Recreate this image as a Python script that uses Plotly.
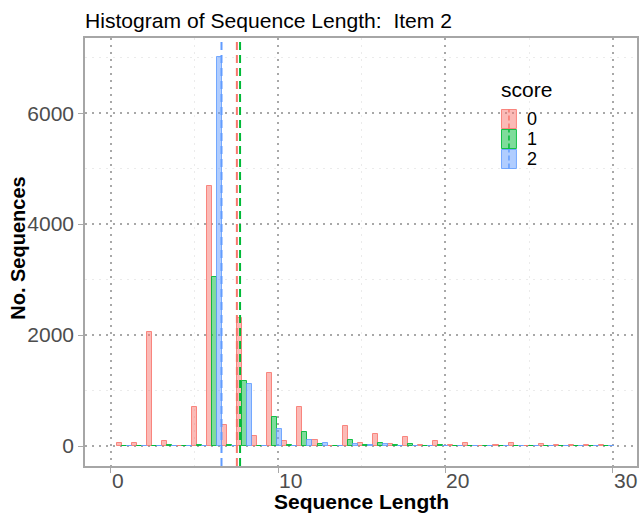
import plotly.graph_objects as go

# ---- data ----
bin_centers = [0.79, 1.69, 2.59, 3.49, 4.39, 5.30, 6.20, 7.10, 8.00, 8.90,
               9.80, 10.70, 11.60, 12.50, 13.40, 14.31, 15.21, 16.11, 17.01, 17.91,
               18.81, 19.71, 20.61, 21.51, 22.41, 23.32, 24.22, 25.12, 26.02, 26.92,
               27.82, 28.72, 29.62]
score_labels = ["0", "1", "2"]
count_0 = [60, 55, 2055, 96, 0, 707, 4695, 371, 2305, 180,
           1317, 96, 710, 108, 0, 359, 54, 222, 42, 165,
           24, 90, 18, 60, 0, 18, 48, 8, 30, 10,
           12, 10, 12]
count_1 = [5, 5, 5, 18, 0, 20, 3048, 10, 1174, 5,
           527, 24, 257, 30, 0, 108, 12, 60, 10, 42,
           5, 24, 5, 5, 0, 3, 3, 3, 3, 3,
           3, 3, 3]
count_2 = [3, 3, 3, 3, 0, 3, 7018, 3, 1120, 3,
           311, 5, 100, 48, 0, 42, 24, 30, 5, 5,
           3, 3, 3, 3, 0, 3, 3, 3, 3, 3,
           3, 3, 3]
mean_lengths = [7.53, 7.72, 6.61]
x_ticks = [0, 10, 20, 30]
y_ticks = [0, 2000, 4000, 6000]

line_colors = ["#F8766D", "#00BA38", "#619CFF"]
fill_colors = ["rgba(248,118,109,0.5)", "rgba(0,186,56,0.5)", "rgba(97,156,255,0.5)"]
edge_colors = ["rgba(248,118,109,0.85)", "rgba(0,186,56,0.9)", "rgba(97,156,255,0.85)"]

W, H = 639, 513
L, R, T, B = 85, 0, 38, 47
PW, PH = W - L - R, H - T - B


def px(x):
    return (x - L) / PW


def py(y):
    return (H - B - y) / PH


font_family = "Liberation Sans, Arial, sans-serif"

fig = go.Figure()
for lab, ys, fc, ec in zip(score_labels, [count_0, count_1, count_2], fill_colors, edge_colors):
    fig.add_trace(go.Bar(
        x=bin_centers, y=ys, name=lab, showlegend=False,
        marker=dict(color=fc, line=dict(color=ec, width=1)),
    ))

for m, c in zip(mean_lengths, line_colors):
    fig.add_shape(type="line", xref="x", yref="paper", x0=m, x1=m, y0=0, y1=1,
                  line=dict(color=c, width=2, dash="8px,5px"), layer="above")

# x tick labels, left-aligned at the tick (as in the reference)
for v in x_ticks:
    fig.add_annotation(x=v, xref="x", y=0, yref="paper", text=str(v),
                       xanchor="left", yanchor="top", yshift=-1, xshift=-1,
                       showarrow=False, font=dict(size=21, color="#4D4D4D", family=font_family))

# axis titles
fig.add_annotation(x=0.5, xref="paper", y=0, yref="paper", text="<b>Sequence Length</b>",
                   xanchor="center", yanchor="top", yshift=-22, showarrow=False,
                   font=dict(size=21, color="black", family=font_family))
fig.add_annotation(x=px(17.5), xref="paper", y=py(248), yref="paper", text="<b>No. Sequences</b>",
                   xanchor="center", yanchor="middle", textangle=-90, showarrow=False,
                   font=dict(size=20, color="black", family=font_family))

# manual legend
fig.add_annotation(x=px(502), y=py(89), xref="paper", yref="paper", text="score",
                   xanchor="left", yanchor="middle", showarrow=False, borderpad=0,
                   font=dict(size=21, color="black", family=font_family))
key_tops = [109, 129, 149]
for lab, top, fc, ec, lc in zip(score_labels, key_tops, fill_colors, edge_colors, line_colors):
    fig.add_shape(type="rect", xref="paper", yref="paper",
                  x0=px(503), x1=px(518), y0=py(top + 19.5), y1=py(top + 0.5),
                  fillcolor=fc, line=dict(color=ec, width=1), layer="above")
    fig.add_shape(type="line", xref="paper", yref="paper",
                  x0=px(510.5), x1=px(510.5), y0=py(top + 19.5), y1=py(top + 0.5),
                  line=dict(color=lc, width=1.5, dash="5px,3px"), layer="above")
    fig.add_annotation(x=px(528), y=py(top + 10), xref="paper", yref="paper", text=lab,
                       xanchor="left", yanchor="middle", showarrow=False, borderpad=0,
                       font=dict(size=18, color="black", family=font_family))

dot_grid = dict(gridcolor="#a8a8a8", gridwidth=1.5, griddash="2px,5px")

fig.update_layout(
    width=W, height=H,
    margin=dict(l=L, r=R, t=T, b=B),
    paper_bgcolor="white", plot_bgcolor="white",
    barmode="group", bargap=0, bargroupgap=0,
    showlegend=False,
    font=dict(family=font_family, color="black"),
    title=dict(text="Histogram of Sequence Length:  Item 2",
               x=85 / W, xanchor="left", xref="container",
               y=1 - 21 / H, yanchor="middle",
               font=dict(size=21.1, color="black", family=font_family)),
    xaxis=dict(
        range=[-1.55, 31.45], tickvals=x_ticks, showticklabels=False,
        ticks="outside", ticklen=5, tickcolor="#a8a8a8", tickwidth=1,
        showgrid=True, **dot_grid,
        minor=dict(dtick=5, tick0=0, showgrid=True, gridcolor="#ebebeb", gridwidth=1, ticks=""),
        zeroline=False,
        showline=True, linecolor="#a6a6a6", linewidth=1.5, mirror=True,
    ),
    yaxis=dict(
        range=[-360, 7355], tickvals=y_ticks, ticktext=[str(v) for v in y_ticks],
        ticks="outside", ticklen=5, tickcolor="#a8a8a8", tickwidth=1,
        tickfont=dict(size=21, color="#4D4D4D"),
        showgrid=True, **dot_grid,
        minor=dict(dtick=1000, tick0=0, showgrid=True, gridcolor="#ebebeb", gridwidth=1, ticks=""),
        zeroline=False,
        showline=True, linecolor="#a6a6a6", linewidth=1.5, mirror=True,
    ),
)

fig.write_html("out.html")
